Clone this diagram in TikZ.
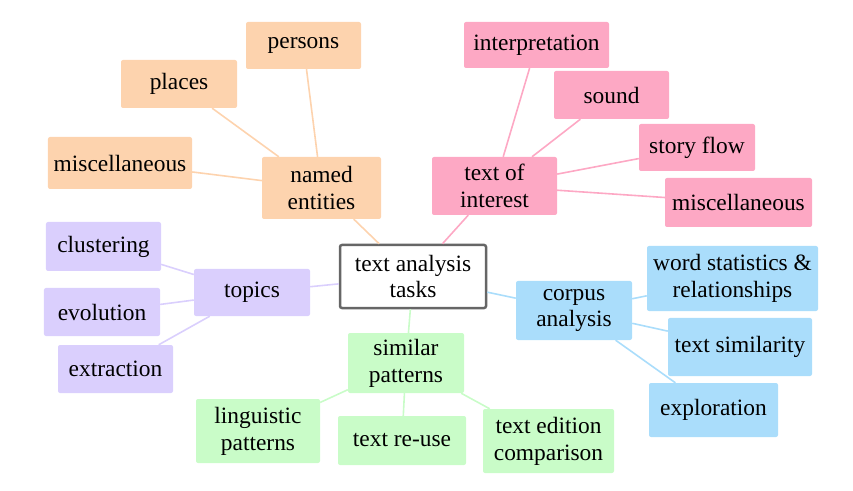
\documentclass[tikz,border=0pt]{standalone}
\usepackage{fontspec}
\setmainfont{Liberation Serif}
\usepackage{tikz}
\definecolor{orangebox}{HTML}{FDD3AE}
\definecolor{pinkbox}{HTML}{FDA8C4}
\definecolor{purplebox}{HTML}{DACFFD}
\definecolor{greenbox}{HTML}{C9FCC8}
\definecolor{bluebox}{HTML}{AADDFB}
\definecolor{centerline}{HTML}{666666}
\tikzset{
	topic/.style={rounded corners=2bp,inner sep=2bp,align=center,
		font=\fontsize{23.5}{27}\selectfont},
	link/.style={line width=1.6bp},
}

\begin{document}
\begin{tikzpicture}[x=1bp,y=-1bp]
	\useasboundingbox (0,0) rectangle (853,491);
	\node[topic,draw=centerline,line width=2.5bp,fill=white,minimum width=146bp,minimum height=63bp] (tasks) at (413,276.5) {text analysis\\tasks};

	\node[topic,fill=orangebox,minimum width=115bp,minimum height=47bp] (persons) at (303.5,45.5) {persons};
	\node[topic,fill=orangebox,minimum width=116bp,minimum height=48bp] (places) at (179,84) {places};
	\node[topic,fill=orangebox,minimum width=144bp,minimum height=52bp] (miscne) at (120,163) {miscellaneous};
	\node[topic,fill=orangebox,minimum width=119bp,minimum height=62bp] (named) at (321.5,188) {named\\entities};

	\node[topic,fill=pinkbox,minimum width=145bp,minimum height=46bp] (interp) at (536.5,45) {interpretation};
	\node[topic,fill=pinkbox,minimum width=115bp,minimum height=48bp] (sound) at (611.5,95) {sound};
	\node[topic,fill=pinkbox,minimum width=116bp,minimum height=47bp] (story) at (697,147.5) {story flow};
	\node[topic,fill=pinkbox,minimum width=147bp,minimum height=49bp] (miscti) at (738.5,202.5) {miscellaneous};
	\node[topic,fill=pinkbox,minimum width=125bp,minimum height=58bp] (interest) at (494.5,186) {text of\\interest};

	\node[topic,fill=purplebox,minimum width=115bp,minimum height=49bp] (cluster) at (103.5,246.5) {clustering};
	\node[topic,fill=purplebox,minimum width=116bp,minimum height=48bp] (evol) at (102,312) {evolution};
	\node[topic,fill=purplebox,minimum width=115bp,minimum height=48bp] (extract) at (115.5,369) {extraction};
	\node[topic,fill=purplebox,minimum width=116bp,minimum height=47bp] (topics) at (252,292.5) {topics};

	\node[topic,fill=greenbox,minimum width=116bp,minimum height=60bp] (similar) at (406,363) {similar\\patterns};
	\node[topic,fill=greenbox,minimum width=124bp,minimum height=64bp] (ling) at (258,431) {linguistic\\patterns};
	\node[topic,fill=greenbox,minimum width=128bp,minimum height=49bp] (reuse) at (402,440.5) {text re-use};
	\node[topic,fill=greenbox,minimum width=131bp,minimum height=64bp] (edition) at (548.5,441) {text edition\\comparison};

	\node[topic,fill=bluebox,minimum width=116bp,minimum height=59bp] (corpus) at (574,310.5) {corpus\\analysis};
	\node[topic,fill=bluebox,minimum width=171bp,minimum height=65bp] (wordstat) at (732.5,278.5) {word statistics \&\\relationships};
	\node[topic,fill=bluebox,minimum width=144bp,minimum height=58bp] (textsim) at (740,347) {text similarity};
	\node[topic,fill=bluebox,minimum width=129bp,minimum height=54bp] (explore) at (713.5,410) {exploration};

	\foreach \a in {persons,places,miscne}{
		\draw[link,orangebox] (\a) -- (named);
	}
	\draw[link,orangebox] (named) -- (tasks);
	\foreach \a in {interp,sound,story,miscti}{
		\draw[link,pinkbox] (\a) -- (interest);
	}
	\draw[link,pinkbox] (interest) -- (tasks);
	\foreach \a in {cluster,evol,extract}{
		\draw[link,purplebox] (\a) -- (topics);
	}
	\draw[link,purplebox] (topics) -- (tasks);
	\foreach \a in {ling,reuse,edition}{
		\draw[link,greenbox] (\a) -- (similar);
	}
	\draw[link,greenbox] (similar) -- (tasks);
	\foreach \a in {wordstat,textsim,explore}{
		\draw[link,bluebox] (\a) -- (corpus);
	}
	\draw[link,bluebox] (corpus) -- (tasks);
\end{tikzpicture}
\end{document}
